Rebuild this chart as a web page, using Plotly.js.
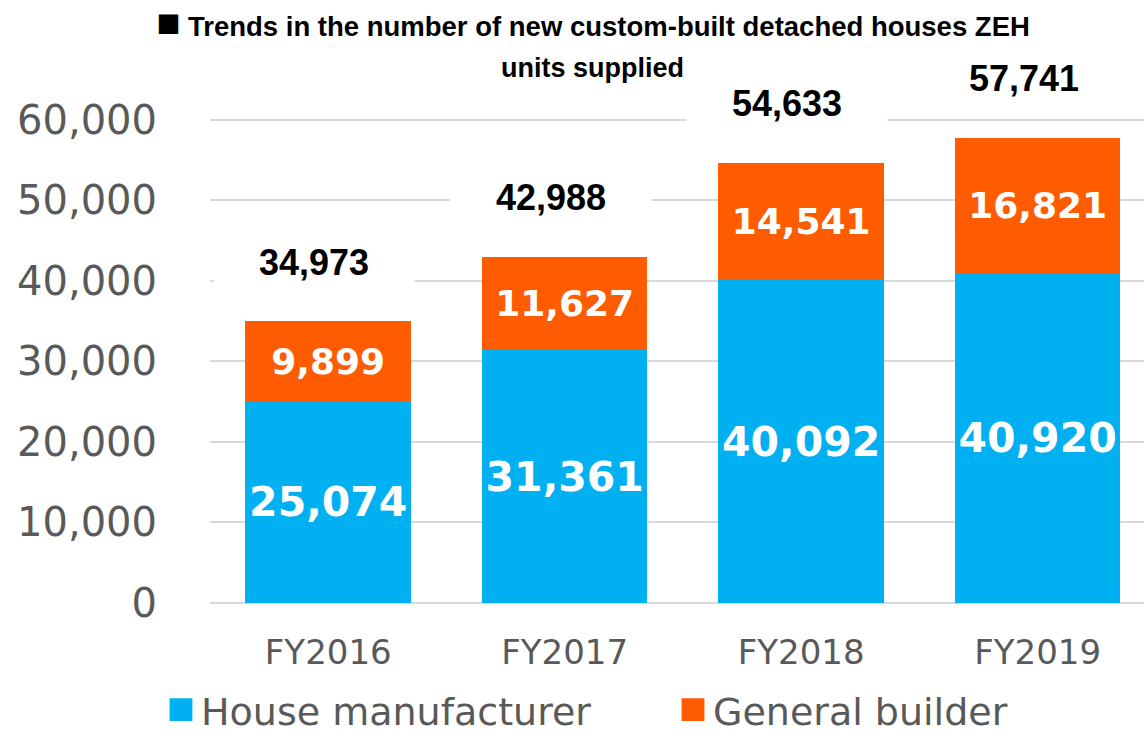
<!DOCTYPE html>
<html>
<head>
<meta charset="utf-8">
<script src="https://cdn.plot.ly/plotly-3.0.1.min.js"></script>
<style>html,body{margin:0;padding:0;background:#fff;}#chart{width:1144px;height:734px;}</style>
</head>
<body>
<div id="chart"></div>
<script>
const categories = ["FY2016", "FY2017", "FY2018", "FY2019"];
const houseManufacturer = [25074, 31361, 40092, 40920];
const generalBuilder = [9899, 11627, 14541, 16821];
const totals = [34973, 42988, 54633, 57741];
const seriesNames = ["House manufacturer", "General builder"];
const titleMarker = "■";
const titleLine1 = "Trends in the number of new custom-built detached houses ZEH";
const titleLine2 = "units supplied";

const BLUE = "#00B0F0", ORANGE = "#FF5B00", GREY = "#595959";
const Y_MAX = 60200;
const totalOffset = 7400;

const traces = [
  {
    type: "bar", name: seriesNames[0], x: categories, y: houseManufacturer,
    marker: {color: BLUE}, legendwidth: 467,
    texttemplate: "%{y:,.0f}", textposition: "inside", insidetextanchor: "middle",
    constraintext: "none",
    textfont: {family: "DejaVu Sans", size: 41, color: "#ffffff", weight: "bold"},
    hoverinfo: "skip"
  },
  {
    type: "bar", name: seriesNames[1], x: categories, y: generalBuilder,
    marker: {color: ORANGE},
    texttemplate: "%{y:,.0f}", textposition: "inside", insidetextanchor: "middle",
    constraintext: "none",
    textfont: {family: "DejaVu Sans", size: 36, color: "#ffffff", weight: "bold"},
    hoverinfo: "skip"
  }
];

// total labels: x on the category axis, y as a fraction of the value axis range
const annotations = categories.map((c, i) => ({
  x: c, xref: "x", y: (totals[i] + totalOffset) / Y_MAX, yref: "paper",
  xanchor: "center", yanchor: "middle",
  text: totals[i].toLocaleString("en-US"),
  showarrow: false, xshift: -14,
  bgcolor: "#ffffff", width: 200, height: 56, borderpad: 0,
  font: {family: "Liberation Sans, Arial", size: 36, color: "#000000", weight: "bold"}
}));
annotations.push({
  xref: "paper", yref: "paper", x: (592 - 210) / 934, y: (603 - 68) / 485,
  xanchor: "center", yanchor: "middle", showarrow: false,
  text: titleLine2,
  font: {family: "Liberation Sans, Arial", size: 27, color: "#000000", weight: "bold"}
});

const layout = {
  width: 1144, height: 734,
  margin: {l: 210, r: 0, t: 118, b: 131},
  paper_bgcolor: "#ffffff", plot_bgcolor: "#ffffff",
  barmode: "stack", bargap: 0.3,
  title: {
    text: "<span style='font-size:40px'>" + titleMarker + "</span> " + titleLine1,
    xref: "container", yref: "container", x: 593 / 1144, y: 1 - 26 / 734,
    xanchor: "center", yanchor: "middle",
    font: {family: "Liberation Sans, Arial", size: 27.5, color: "#000000", weight: "bold"}
  },
  xaxis: {
    type: "category", range: [-0.5, 3.45],
    showgrid: false, zeroline: false, showline: false, ticks: "",
    tickfont: {family: "DejaVu Sans", size: 34, color: GREY},
    ticklabelstandoff: 26, fixedrange: true
  },
  yaxis: {
    range: [0, Y_MAX], tick0: 0, dtick: 10000, tickformat: ",",
    showgrid: true, gridcolor: "#D9D9D9", gridwidth: 2,
    zeroline: true, zerolinecolor: "#D9D9D9", zerolinewidth: 2,
    showline: false, ticks: "",
    tickfont: {family: "DejaVu Sans", size: 40, color: GREY},
    ticklabelstandoff: 52, fixedrange: true
  },
  legend: {
    orientation: "h", xref: "container", yref: "container",
    x: 161 / 1144, xanchor: "left", y: 24 / 734, yanchor: "middle",
    font: {family: "DejaVu Sans", size: 38, color: GREY},
    traceorder: "normal", bgcolor: "rgba(0,0,0,0)"
  },
  showlegend: true,
  annotations: annotations
};

Plotly.newPlot("chart", traces, layout, {displayModeBar: false, staticPlot: true}).then(gd => {
  gd.querySelectorAll(".legendpoints path").forEach(p => {
    const t = p.getAttribute("transform") || "";
    p.setAttribute("transform", t + " scale(1.9)");
  });
});
</script>
</body>
</html>
